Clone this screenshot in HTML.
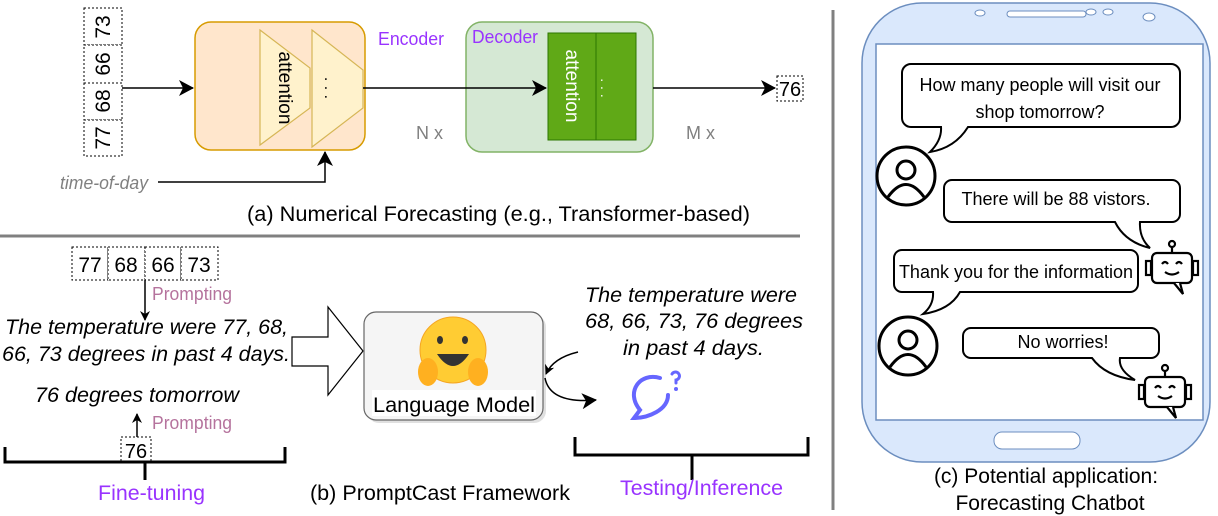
<!DOCTYPE html>
<html><head><meta charset="utf-8"><style>
html,body{margin:0;padding:0;background:#fff;}
svg{display:block;font-family:"Liberation Sans",sans-serif;}
</style></head><body>
<svg width="1218" height="516" viewBox="0 0 1218 516" xmlns="http://www.w3.org/2000/svg">
<defs>
<marker id="ah" markerWidth="10" markerHeight="10" refX="9" refY="5" orient="auto" markerUnits="userSpaceOnUse"><path d="M0,0 L10,5 L0,10 L3,5 Z" fill="#000"/></marker>
<marker id="ah2" markerWidth="16" markerHeight="16" refX="14" refY="8" orient="auto" markerUnits="userSpaceOnUse"><path d="M0,0 L15,8 L0,16 L4,8 Z" fill="#000"/></marker>
</defs>
<line x1="0" y1="236" x2="800" y2="236" stroke="#808080" stroke-width="3"/>
<line x1="833" y1="10" x2="833" y2="510" stroke="#808080" stroke-width="3"/>

<!-- (a) -->
<g stroke="#000" stroke-dasharray="2,2" fill="#fff" stroke-width="1">
<rect x="84" y="8" width="38" height="37"/><rect x="84" y="45" width="38" height="38"/><rect x="84" y="83" width="38" height="37"/><rect x="84" y="120" width="38" height="36"/>
</g>
<g font-size="21" text-anchor="middle">
<text transform="translate(110,27) rotate(-90)">73</text>
<text transform="translate(110,64) rotate(-90)">66</text>
<text transform="translate(110,101) rotate(-90)">68</text>
<text transform="translate(110,138) rotate(-90)">77</text>
</g>
<rect x="195" y="22" width="170" height="128" rx="16" fill="#ffe6cc" stroke="#d79b00" stroke-width="1.5"/>
<rect x="466" y="22" width="187" height="130" rx="16" fill="#d5e8d4" stroke="#82b366" stroke-width="1.5"/>
<line x1="122" y1="88" x2="193" y2="88" stroke="#000" stroke-width="1.5" marker-end="url(#ah2)"/>
<polygon points="260,30 310,68 310,108 260,145" fill="#fff2cc" stroke="#d6b656" stroke-width="1.2"/>
<polygon points="312,30 363,70 363,108 312,147" fill="#fff2cc" stroke="#d6b656" stroke-width="1.2"/>
<text transform="translate(279,88) rotate(90)" font-size="19" text-anchor="middle">attention</text>
<text transform="translate(325,88) rotate(90)" font-size="16" text-anchor="middle">. . .</text>
<line x1="363" y1="88" x2="546" y2="88" stroke="#000" stroke-width="1.5" marker-end="url(#ah2)"/>
<rect x="548" y="33" width="48" height="107" fill="#60a917" stroke="#2d7600"/>
<rect x="596" y="33" width="40" height="107" fill="#60a917" stroke="#2d7600"/>
<text transform="translate(566,86) rotate(90)" font-size="19" text-anchor="middle" fill="#fff">attention</text>
<text transform="translate(601,88) rotate(90)" font-size="14" text-anchor="middle" fill="#fff">. . .</text>
<line x1="653" y1="88" x2="775" y2="88" stroke="#000" stroke-width="1.5" marker-end="url(#ah2)"/>
<rect x="777" y="76" width="26" height="25" fill="#fff" stroke="#000" stroke-dasharray="2,2"/>
<text x="790" y="96" font-size="20" text-anchor="middle">76</text>
<text x="378" y="45" font-size="18" fill="#9933ff" textLength="66" lengthAdjust="spacingAndGlyphs">Encoder</text>
<text x="472" y="43" font-size="18" fill="#9933ff" textLength="66" lengthAdjust="spacingAndGlyphs">Decoder</text>
<text x="416" y="139" font-size="18" fill="#808080">N x</text>
<text x="686" y="139" font-size="18" fill="#808080">M x</text>
<text x="60" y="189" font-size="18" fill="#808080" font-style="italic" textLength="88" lengthAdjust="spacingAndGlyphs">time-of-day</text>
<polyline points="158,182 325,182 325,152" fill="none" stroke="#000" stroke-width="1.5" marker-end="url(#ah2)"/>
<text x="247" y="221" font-size="21" textLength="503" lengthAdjust="spacingAndGlyphs">(a) Numerical Forecasting (e.g., Transformer-based)</text>

<!-- (b) -->
<g stroke="#000" stroke-dasharray="2,2" fill="#fff">
<rect x="72" y="247" width="36" height="33"/><rect x="108" y="247" width="37" height="33"/><rect x="145" y="247" width="36" height="33"/><rect x="181" y="247" width="37" height="33"/>
</g>
<g font-size="21" text-anchor="middle"><text x="90" y="272">77</text><text x="126" y="272">68</text><text x="163" y="272">66</text><text x="199" y="272">73</text></g>
<line x1="145" y1="280" x2="145" y2="320" stroke="#000" stroke-width="1.5" marker-end="url(#ah)"/>
<text x="152" y="300" font-size="18" fill="#b5739d" textLength="80" lengthAdjust="spacingAndGlyphs">Prompting</text>
<g font-size="21" font-style="italic">
<text x="5" y="334" textLength="283" lengthAdjust="spacingAndGlyphs">The temperature were 77, 68,</text>
<text x="2" y="361" textLength="288" lengthAdjust="spacingAndGlyphs">66, 73 degrees in past 4 days.</text>
<text x="35" y="402" textLength="204" lengthAdjust="spacingAndGlyphs">76 degrees tomorrow</text>
<text x="585" y="302" textLength="212" lengthAdjust="spacingAndGlyphs">The temperature were</text>
<text x="585" y="328" textLength="218" lengthAdjust="spacingAndGlyphs">68, 66, 73, 76 degrees</text>
<text x="623" y="355" textLength="141" lengthAdjust="spacingAndGlyphs">in past 4 days.</text>
</g>
<line x1="137" y1="437" x2="137" y2="414" stroke="#000" stroke-width="1.5" marker-end="url(#ah)"/>
<text x="152" y="429" font-size="18" fill="#b5739d" textLength="80" lengthAdjust="spacingAndGlyphs">Prompting</text>
<rect x="121" y="437" width="30" height="26" fill="#fff" stroke="#000" stroke-dasharray="2,2"/>
<text x="136" y="458" font-size="20" text-anchor="middle">76</text>
<polyline points="5,447 5,462 285,462 285,447" fill="none" stroke="#000" stroke-width="3"/>
<line x1="145" y1="462" x2="145" y2="480" stroke="#000" stroke-width="3"/>
<text x="98" y="500" font-size="21" fill="#9933ff" textLength="107" lengthAdjust="spacingAndGlyphs">Fine-tuning</text>
<polygon points="292,337 328,337 328,307 363,351 328,395 328,366 292,366" fill="#fff" stroke="#000" stroke-width="1.2"/>
<rect x="367" y="315" width="179" height="108" rx="12" fill="#ccc" opacity="0.6"/>
<rect x="364" y="312" width="179" height="108" rx="12" fill="#f5f5f5" stroke="#666" stroke-width="1.2"/>
<circle cx="453" cy="350" r="33" fill="#ffcc33" stroke="#f5a623"/>
<ellipse cx="440" cy="340" rx="3" ry="4" fill="#333"/><ellipse cx="465" cy="340" rx="3" ry="4" fill="#333"/>
<path d="M437,354 Q453,378 469,354 Z" fill="#333"/>
<ellipse cx="428" cy="372" rx="10" ry="14" fill="#ffb020"/><ellipse cx="478" cy="372" rx="10" ry="14" fill="#ffb020"/>
<rect x="372" y="390" width="164" height="26" fill="#fff"/>
<text x="373" y="412" font-size="21" textLength="162" lengthAdjust="spacingAndGlyphs">Language Model</text>
<path d="M578,352 Q553,358 546,374" fill="none" stroke="#000" stroke-width="1.5" marker-end="url(#ah)"/>
<path d="M545,378 Q550,404 596,400" fill="none" stroke="#000" stroke-width="1.5" marker-end="url(#ah2)"/>
<path d="M660,378 C640,372 625,392 640,410 L634,418 C648,418 668,410 668,395" fill="none" stroke="#6666ff" stroke-width="4" stroke-linecap="round"/>
<path d="M672,374 a4,4 0 1 1 4,6 v3" fill="none" stroke="#6666ff" stroke-width="3" stroke-linecap="round"/>
<circle cx="676" cy="389" r="2" fill="#6666ff"/>
<polyline points="575,437 575,455 808,455 808,437" fill="none" stroke="#000" stroke-width="3"/>
<line x1="692" y1="455" x2="692" y2="480" stroke="#000" stroke-width="3"/>
<text x="620" y="495" font-size="21" fill="#9933ff" textLength="163" lengthAdjust="spacingAndGlyphs">Testing/Inference</text>
<text x="310" y="500" font-size="21" textLength="260" lengthAdjust="spacingAndGlyphs">(b) PromptCast Framework</text>

<!-- (c) -->
<rect x="862" y="3" width="348" height="459" rx="60" fill="#dae8fc" stroke="#6c8ebf" stroke-width="1.5"/>
<rect x="876" y="44" width="327" height="376" fill="#fff" stroke="#6c8ebf" stroke-width="1.5"/>
<rect x="994" y="432" width="86" height="17" rx="8" fill="#fff" stroke="#6c8ebf"/>
<rect x="1007" y="11" width="79" height="6" rx="3" fill="#fff" stroke="#6c8ebf"/>
<ellipse cx="980" cy="13" rx="5" ry="3" fill="#fff" stroke="#6c8ebf"/>
<ellipse cx="1091" cy="12" rx="5" ry="3" fill="#fff" stroke="#6c8ebf"/>
<ellipse cx="1108" cy="12" rx="5" ry="3" fill="#fff" stroke="#6c8ebf"/>
<ellipse cx="1149" cy="17" rx="6" ry="4" fill="#fff" stroke="#6c8ebf"/>
<g fill="#fff" stroke="#000" stroke-width="2">
<path d="M911,64 H1171 a9,9 0 0 1 9,9 V118 a9,9 0 0 1 -9,9 H968 Q955,148 930,152 Q942,140 941,127 H911 a9,9 0 0 1 -9,-9 V73 a9,9 0 0 1 9,-9 Z"/>
<path d="M952,180 H1172 a8,8 0 0 1 8,8 V214 a8,8 0 0 1 -8,8 H1140 Q1139,238 1150,248 Q1125,242 1115,222 H952 a8,8 0 0 1 -8,-8 V188 a8,8 0 0 1 8,-8 Z"/>
<path d="M902,250 H1130 a8,8 0 0 1 8,8 V284 a8,8 0 0 1 -8,8 H960 Q950,310 923,314 Q934,305 933,292 H902 a8,8 0 0 1 -8,-8 V258 a8,8 0 0 1 8,-8 Z"/>
<path d="M971,328 H1151 a8,8 0 0 1 8,8 V350 a8,8 0 0 1 -8,8 H1120 Q1118,370 1135,380 Q1105,376 1092,358 H971 a8,8 0 0 1 -8,-8 V336 a8,8 0 0 1 8,-8 Z"/>
</g>
<g font-size="18" text-anchor="middle">
<text x="1040" y="91">How many people will visit our</text>
<text x="1040" y="118">shop tomorrow?</text>
<text x="1056" y="205">There will be 88 vistors.</text>
<text x="1016" y="278">Thank you for the information</text>
<text x="1063" y="348">No worries!</text>
</g>
<g fill="none" stroke="#000" stroke-width="3">
<circle cx="906" cy="176" r="29"/><circle cx="906" cy="170" r="9"/><path d="M888,197 Q906,172 924,197"/>
<circle cx="908" cy="346" r="29"/><circle cx="908" cy="340" r="9"/><path d="M890,367 Q908,342 926,367"/>
</g>
<g fill="#fff" stroke="#000" stroke-width="2.2">
<g transform="translate(1172,268)">
<rect x="-20" y="-15" width="40" height="30" rx="5"/><rect x="-26" y="-7" width="5" height="14"/><rect x="21" y="-7" width="5" height="14"/>
<line x1="0" y1="-15" x2="0" y2="-22"/><circle cx="0" cy="-24" r="3"/>
<path d="M8,15 L11,26 L2,15" /><path d="M-10,-4 q3,-4 6,0 M4,-4 q3,-4 6,0 M-7,4 q7,5 14,0" fill="none"/>
</g>
<g transform="translate(1165,392)">
<rect x="-20" y="-15" width="40" height="30" rx="5"/><rect x="-26" y="-7" width="5" height="14"/><rect x="21" y="-7" width="5" height="14"/>
<line x1="0" y1="-15" x2="0" y2="-22"/><circle cx="0" cy="-24" r="3"/>
<path d="M8,15 L11,26 L2,15"/><path d="M-10,-4 q3,-4 6,0 M4,-4 q3,-4 6,0 M-7,4 q7,5 14,0" fill="none"/>
</g>
</g>
<g font-size="21" text-anchor="middle">
<text x="1046" y="483">(c) Potential application:</text>
<text x="1050" y="510">Forecasting Chatbot</text>
</g>
</svg>
</body></html>
